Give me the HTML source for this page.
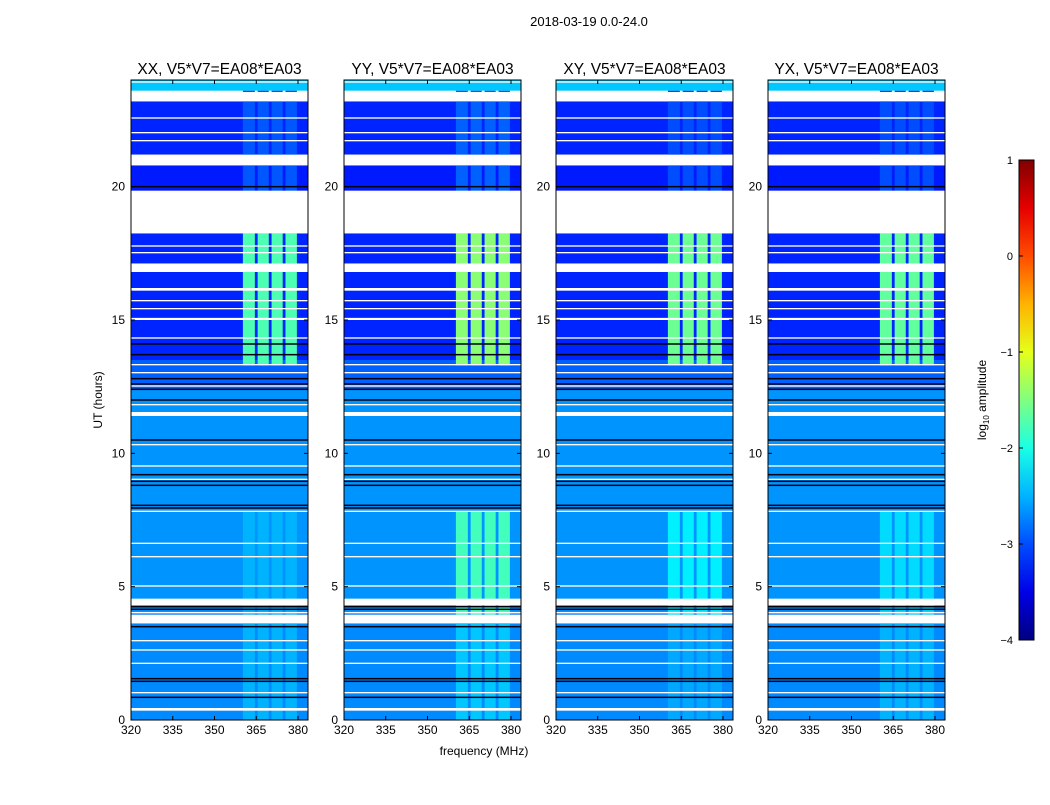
<!DOCTYPE html>
<html><head><meta charset="utf-8"><style>
body{margin:0;background:#fff;font-family:"Liberation Sans",sans-serif;}
svg text{font-family:"Liberation Sans",sans-serif;}
</style></head><body>
<svg id="fig" width="1050" height="800" xmlns="http://www.w3.org/2000/svg">
<rect width="1050" height="800" fill="#fff"/>
<text x="589" y="26" font-size="13" text-anchor="middle">2018-03-19 0.0-24.0</text>
<text x="484" y="755" font-size="12" text-anchor="middle">frequency (MHz)</text>
<text transform="translate(102,400) rotate(-90)" font-size="12" text-anchor="middle">UT (hours)</text>
<g id="panels"></g>
<defs><linearGradient id="jet" x1="0" y1="1" x2="0" y2="0"></linearGradient></defs>
<g id="cbar"></g>
</svg>
<script>
const panelNames = ["XX","YY","XY","YX"];
const baselineLabel = "V5*V7=EA08*EA03";
// time bands: [startHour, endHour, log10 level]
const bandStart = [0, 3.6, 4.0, 12.4, 13.5, 17.1, 19.8, 21.2, 23.6];
const bandEnd   = [3.6, 4.0, 12.4, 13.5, 16.8, 18.25, 20.8, 23.2, 24.0];
const bandLevel = [-2.7, -2.8, -2.65, -2.9, -3.2, -3.2, -3.25, -3.2, -2.4];
// flagged (white) hour ranges
const flagStart = [3.62, 4.0, 0.35, 1.0, 2.1, 2.6, 2.95, 4.3, 5.0, 6.1, 6.6, 7.8, 9.0, 9.5, 10.3, 11.4, 11.8, 12.5, 13.0, 13.3, 14.3, 15.0, 15.4, 15.7, 16.1, 16.8, 17.5, 17.75, 18.25, 20.8, 21.7, 22.0, 22.55, 23.2, 23.9];
const flagEnd   = [3.95, 4.05, 0.45, 1.05, 2.15, 2.65, 3.0, 4.55, 5.05, 6.15, 6.65, 7.85, 9.05, 9.55, 10.35, 11.55, 11.85, 12.55, 13.05, 13.35, 14.35, 15.08, 15.45, 15.75, 16.2, 17.12, 17.55, 17.8, 19.85, 21.2, 21.75, 22.05, 22.6, 23.55, 23.95];
// dark (black) lines in hours
const darkLines = [0.85, 1.45, 1.55, 3.5, 4.15, 4.25, 7.95, 8.05, 8.8, 8.95, 9.2, 10.5, 12.0, 12.4, 12.6, 12.8, 13.7, 14.1, 20.0];
// RFI frequency segments (MHz)
const rfiLo = [360.2, 365.5, 370.5, 375.5];
const rfiHi = [364.5, 369.5, 374.5, 379.6];
// RFI time windows and per-panel levels
const rfiTStart = [13.3, 3.95, 0.0, 19.8];
const rfiTEnd   = [18.25, 7.8, 3.6, 23.6];
const rfiLevelXX = [-1.75, -2.5, -2.5, -2.95];
const rfiLevelYY = [-1.45, -1.8, -2.4, -2.9];
const rfiLevelXY = [-1.6, -2.2, -2.55, -3.0];
const rfiLevelYX = [-1.65, -2.3, -2.5, -3.0];
const rfiLevels = [rfiLevelXX, rfiLevelYY, rfiLevelXY, rfiLevelYX];
const xTicks = [320, 335, 350, 365, 380];
const yTicks = [0, 5, 10, 15, 20];
const cbTicks = [1, 0, -1, -2, -3, -4];

const NS="http://www.w3.org/2000/svg";
const panelLeft=[131,344,556,768], PW=177, PT=80, PB=720;
const fx=f=>(f-320)*(167/60);
const ty=h=>PB-h*(PB-PT)/24;
function jet(v){
  let t=(v+4)/5; t=Math.max(0,Math.min(1,t));
  const c=x=>Math.round(255*Math.max(0,Math.min(1,1.5-Math.abs(4*t-x))));
  return `rgb(${c(3)},${c(2)},${c(1)})`;
}
function mk(tag,attrs,parent){const e=document.createElementNS(NS,tag);for(const k in attrs)e.setAttribute(k,attrs[k]);parent.appendChild(e);return e;}
const root=document.getElementById('panels');
panelNames.forEach((pn,pi)=>{
  const g=mk('g',{transform:`translate(${panelLeft[pi]},0)`},root);
  
  
  const clip=mk('clipPath',{id:'c'+pi},g);mk('rect',{x:0,y:PT,width:PW,height:PB-PT},clip);
  const d=mk('g',{'clip-path':`url(#c${pi})`},g);
  for(let i=0;i<bandStart.length;i++){
    const r=mk('rect',{x:0,y:ty(bandEnd[i]),width:PW,height:ty(bandStart[i])-ty(bandEnd[i]),fill:jet(bandLevel[i])},d);
    
    
  }
  for(let w=0;w<rfiTStart.length;w++){
    for(let s=0;s<rfiLo.length;s++){
      const r=mk('rect',{x:fx(rfiLo[s]),y:ty(rfiTEnd[w]),width:fx(rfiHi[s])-fx(rfiLo[s]),height:ty(rfiTStart[w])-ty(rfiTEnd[w]),fill:jet(rfiLevels[pi][w])},d);
      
      
    }
  }
  darkLines.forEach(h=>{mk('rect',{x:0,y:ty(h)-0.75,width:PW,height:1.5,fill:'#001'},d);});
  for(let i=0;i<flagStart.length;i++){
    const r=mk('rect',{x:0,y:ty(flagEnd[i]),width:PW,height:Math.max(1.2,ty(flagStart[i])-ty(flagEnd[i])),fill:'#fff'},d);
    
    
  }
  mk('rect',{x:0,y:PT,width:PW,height:PB-PT,fill:'none',stroke:'#000','stroke-width':1},g);
  const t=mk('text',{x:PW/2,y:74,'font-size':15.5,'text-anchor':'middle'},g);t.textContent=pn+', '+baselineLabel;
  
  
  xTicks.forEach(v=>{const x=fx(v);mk('line',{x1:x,x2:x,y1:PB,y2:PB-4,stroke:'#000'},g);mk('line',{x1:x,x2:x,y1:PT,y2:PT+4,stroke:'#000'},g);
    const l=mk('text',{x:x,y:PB+14,'font-size':12,'text-anchor':'middle'},g);l.textContent=v;
    
    });
  yTicks.forEach(v=>{const y=ty(v);mk('line',{x1:0,x2:4,y1:y,y2:y,stroke:'#000'},g);mk('line',{x1:PW,x2:PW-4,y1:y,y2:y,stroke:'#000'},g);
    const l=mk('text',{x:-6,y:y+4,'font-size':12,'text-anchor':'end'},g);l.textContent=v;
    
    });
});
const grad=document.getElementById('jet');
for(let i=0;i<=10;i++){mk('stop',{offset:i/10,'stop-color':jet(-4+i*0.5)},grad);}
const cb=document.getElementById('cbar');
const cbr=mk('rect',{x:1019,y:160,width:15,height:480,fill:'url(#jet)',stroke:'#000'},cb);


cbTicks.forEach(v=>{const y=160+(1-v)*96;
  mk('line',{x1:1019,x2:1023,y1:y,y2:y,stroke:'#000'},cb);
  const l=mk('text',{x:1013,y:y+4,'font-size':11,'text-anchor':'end'},cb);l.textContent=v<0?'\u2212'+(-v):String(v);
  
  });
const cl=mk('text',{transform:'translate(986,400) rotate(-90)','font-size':12,'text-anchor':'middle'},cb);
cl.innerHTML='log<tspan font-size="8" dy="3">10</tspan><tspan dy="-3"> amplitude</tspan>';


</script>
</body></html>
